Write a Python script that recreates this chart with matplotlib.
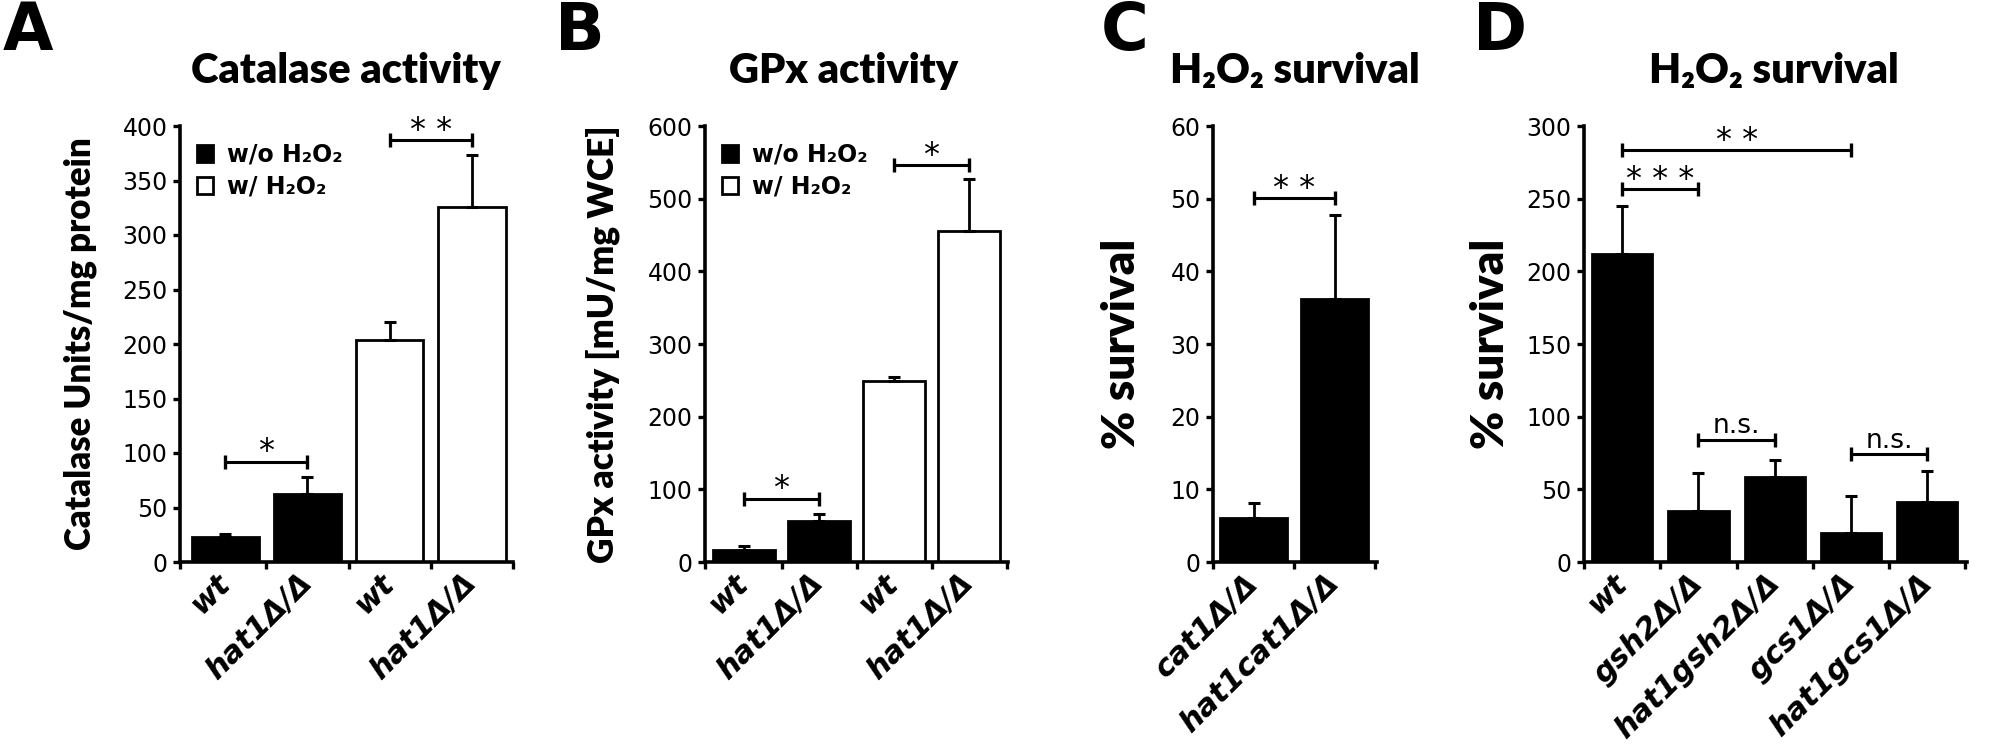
import matplotlib
matplotlib.use("Agg")
import matplotlib.pyplot as plt
from matplotlib.transforms import ScaledTranslation
import numpy as np

# ---- data -------------------------------------------------------------
cat_labels = ["wt", "hat1Δ/Δ", "wt", "hat1Δ/Δ"]
cat_mean = [23, 62, 204, 326]
cat_err = [3, 16, 16, 47]
cat_fill = ["black", "black", "white", "white"]

gpx_labels = ["wt", "hat1Δ/Δ", "wt", "hat1Δ/Δ"]
gpx_mean = [16.5, 56, 248.5, 455.5]
gpx_err = [5, 10, 6, 72]
gpx_fill = ["black", "black", "white", "white"]

cat1_labels = ["cat1Δ/Δ", "hat1cat1Δ/Δ"]
cat1_mean = [6.0, 36.2]
cat1_err = [2.1, 11.5]

gsh_labels = ["wt", "gsh2Δ/Δ", "hat1gsh2Δ/Δ", "gcs1Δ/Δ", "hat1gcs1Δ/Δ"]
gsh_mean = [212, 35, 58.8, 20, 41.5]
gsh_err = [33, 26.5, 11.6, 25.5, 21]

# significance brackets: (left bar, right bar, height, label)
cat_sig = [(0, 1, 92, "*"), (2, 3, 387, "* *")]
gpx_sig = [(0, 1, 87, "*"), (2, 3, 546, "*")]
cat1_sig = [(0, 1, 50.1, "* *")]
gsh_sig = [(0, 1, 256.5, "* * *"), (0, 3, 283.4, "* *"),
           (1, 2, 84, "n.s."), (3, 4, 74, "n.s.")]

legend_labels = ["w/o H₂O₂", "w/ H₂O₂"]

NARROW = ["Lato", "DejaVu Sans"]
W, H = 2000, 749
BOT, TOP = 562, 126


def make_axes(fig, x0, x1):
    return fig.add_axes([x0 / W, 1 - BOT / H, (x1 - x0) / W, (BOT - TOP) / H])


def panel(ax, labels, mean, err, fills, width, xlim, ylim, yticks, ylabel,
          ylabel_x, ylabel_size, sigs):
    x = np.arange(len(mean))
    err_lo = np.zeros(len(err))
    bars = ax.bar(x, mean, width=width, color=fills, edgecolor="black", linewidth=2,
                  yerr=[err_lo, err], zorder=2,
                  error_kw=dict(ecolor="black", elinewidth=2, capsize=4, capthick=2.2))
    ax.set_xlim(*xlim)
    ax.set_ylim(*ylim)
    ax.set_yticks(yticks)
    ax.tick_params(axis="y", direction="out", length=5, width=2.4, pad=4, labelsize=17)
    # category labels in the middle, tick marks on the boundaries
    ax.set_xticks(x)
    ax.set_xticklabels(labels, rotation=45, ha="right", va="center",
                       rotation_mode="anchor", fontsize=22, fontweight="bold",
                       fontstyle="italic")
    shift = ScaledTranslation(0.15, 0, ax.figure.dpi_scale_trans)
    for lab in ax.get_xticklabels():
        lab.set_transform(lab.get_transform() + shift)
    ax.tick_params(axis="x", which="major", length=0, pad=12)
    ax.set_xticks([xlim[0]] + [i + 0.5 for i in x], minor=True)
    ax.tick_params(axis="x", which="minor", direction="out", length=5, width=2.4)
    for s in ["top", "right"]:
        ax.spines[s].set_visible(False)
    for s in ["left", "bottom"]:
        ax.spines[s].set_linewidth(2.6)
    ax.set_ylabel(ylabel, family=NARROW, fontweight="heavy", fontsize=ylabel_size)
    ax.yaxis.set_label_coords(ylabel_x, 0.5)
    for a, b, y, txt in sigs:
        ax.plot([a, b], [y, y], color="black", lw=2.2, solid_capstyle="butt", zorder=3)
        ax.plot([a, b], [y, y], ls="none", marker="|", markersize=10, mew=2.4,
                color="black", zorder=3)
        if txt == "n.s.":
            ax.annotate(txt, ((a + b) / 2, y), xytext=(0, 5), textcoords="offset points",
                        ha="center", va="baseline", fontsize=19)
        else:
            ax.annotate(txt, ((a + b) / 2, y), xytext=(0, 1), textcoords="offset points",
                        ha="center", va="baseline", fontsize=23)
    return bars


fig = plt.figure(figsize=(20, 7.49), dpi=100)

axA = make_axes(fig, 180, 513)
barsA = panel(axA, cat_labels, cat_mean, cat_err, cat_fill, 0.82, (-0.55, 3.5), (0, 400),
              range(0, 401, 50), "Catalase Units/mg protein", -0.25, 25, cat_sig)

axB = make_axes(fig, 705, 1008)
barsB = panel(axB, gpx_labels, gpx_mean, gpx_err, gpx_fill, 0.83, (-0.52, 3.52), (0, 600),
              range(0, 601, 100), "GPx activity [mU/mg WCE]", -0.28, 25.5, gpx_sig)

axC = make_axes(fig, 1213, 1377)
panel(axC, cat1_labels, cat1_mean, cat1_err, ["black"] * 2, 0.83, (-0.5, 1.52), (0, 60),
      range(0, 61, 10), "% survival", -0.43, 33, cat1_sig)

axD = make_axes(fig, 1584, 1967)
panel(axD, gsh_labels, gsh_mean, gsh_err, ["black"] * 5, 0.79, (-0.5, 4.52), (0, 300),
      range(0, 301, 50), "% survival", -0.19, 33, gsh_sig)

for ax, bars in [(axA, barsA), (axB, barsB)]:
    ax.legend([bars.patches[0], bars.patches[2]], legend_labels, loc="upper left",
              bbox_to_anchor=(0.0, 1.0), frameon=False, handlelength=0.7,
              handleheight=0.7, handletextpad=0.6, labelspacing=0.35,
              borderaxespad=0.3, prop=dict(size=17, weight="bold"))

titles = [("Catalase activity", 346), ("GPx activity", 844),
          ("H₂O₂ survival", 1295), ("H₂O₂ survival", 1774)]
for t, cx in titles:
    fig.text(cx / W, 1 - 83 / H, t, ha="center", va="baseline", family=NARROW,
             fontweight="heavy", fontsize=30)

for letter, lx in [("A", 3), ("B", 555), ("C", 1101), ("D", 1473)]:
    fig.text(lx / W, 1 - 50 / H, letter, ha="left", va="baseline", fontweight="bold",
             fontsize=47)

fig.savefig("out.png", dpi=100, facecolor="white")
